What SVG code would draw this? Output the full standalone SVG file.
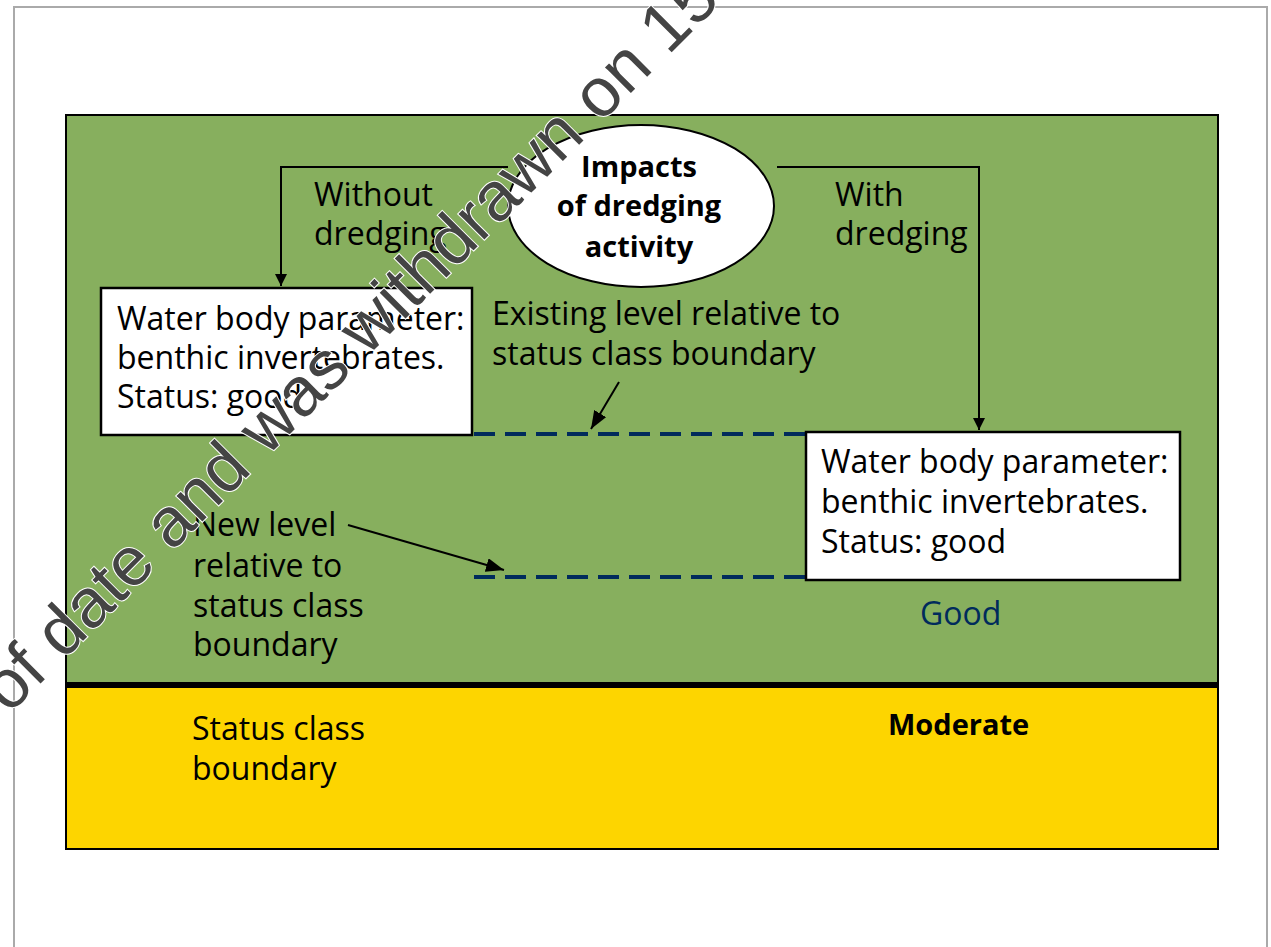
<svg xmlns="http://www.w3.org/2000/svg" width="1271" height="947" viewBox="0 0 1271 947">
<defs>
<marker id="ah" markerWidth="12" markerHeight="12" viewBox="0 0 12 12" refX="12" refY="6" orient="auto" markerUnits="userSpaceOnUse">
<path d="M0,0 L12,6 L0,12 z" fill="#000"/>
</marker>
<marker id="ah2" markerWidth="18" markerHeight="14" viewBox="0 0 18 14" refX="18" refY="7" orient="auto" markerUnits="userSpaceOnUse">
<path d="M0,0 L18,7 L0,14 z" fill="#000"/>
</marker>
</defs>
<style>
.t{font-family:"Open Sans","Noto Sans","Liberation Sans",sans-serif;font-size:32px;fill:#000}
.b{font-weight:bold;font-size:29px}
.box{fill:#fff;stroke:#000;stroke-width:2.5}
.con{fill:none;stroke:#000;stroke-width:2}
.dash{fill:none;stroke:#002B5C;stroke-width:4;stroke-dasharray:21 10}
.wm{font-family:"Liberation Sans",Arial,sans-serif;font-size:69px;fill:#444;stroke:#fff;stroke-width:2;paint-order:stroke}
</style>
<rect x="14" y="7" width="1253" height="960" fill="#fff" stroke="#aaa" stroke-width="2"/>
<g id="good-zone">
<rect x="66" y="115" width="1152" height="570" fill="#87AF5E" stroke="#000" stroke-width="2"/>
<text class="t" x="920" y="625" style="fill:#002B5C">Good</text>
</g>
<g id="moderate-zone">
<rect x="66" y="685" width="1152" height="164" fill="#FDD500" stroke="#000" stroke-width="2"/>
<text class="t b" x="888" y="735">Moderate</text>
</g>
<g id="boundary">
<line x1="66" y1="685" x2="1218" y2="685" stroke="#000" stroke-width="6"/>
<text class="t" x="192" y="740">Status class</text>
<text class="t" x="192" y="780">boundary</text>
</g>
<g id="connectors">
<polyline class="con" points="508,167 281,167 281,286" marker-end="url(#ah)"/>
<polyline class="con" points="777,167 979,167 979,430" marker-end="url(#ah)"/>
<line class="dash" x1="474" y1="434" x2="806" y2="434"/>
<line class="dash" x1="474" y1="577" x2="806" y2="577"/>
<line class="con" x1="619" y1="382" x2="591" y2="429" marker-end="url(#ah2)"/>
<line class="con" x1="348" y1="525" x2="504" y2="570" marker-end="url(#ah2)"/>
</g>
<g id="impacts">
<ellipse cx="641" cy="206" rx="133" ry="81" fill="#fff" stroke="#000" stroke-width="2"/>
<text class="t b" x="639" y="177" text-anchor="middle">Impacts</text>
<text class="t b" x="639" y="216" text-anchor="middle">of dredging</text>
<text class="t b" x="639" y="257" text-anchor="middle">activity</text>
</g>
<g id="label-without">
<text class="t" x="314" y="206">Without</text>
<text class="t" x="314" y="245">dredging</text>
</g>
<g id="label-with">
<text class="t" x="835" y="206">With</text>
<text class="t" x="835" y="245">dredging</text>
</g>
<g id="existing-level">
<text class="t" x="492" y="325">Existing level relative to</text>
<text class="t" x="492" y="365">status class boundary</text>
</g>
<g id="new-level">
<text class="t" x="193" y="536">New level</text>
<text class="t" x="193" y="577">relative to</text>
<text class="t" x="193" y="617">status class</text>
<text class="t" x="193" y="656">boundary</text>
</g>
<g id="box-without">
<rect class="box" x="101" y="288" width="371" height="147"/>
<text class="t" x="117" y="330">Water body parameter:</text>
<text class="t" x="117" y="369">benthic invertebrates.</text>
<text class="t" x="117" y="408">Status: good</text>
</g>
<g id="box-with">
<rect class="box" x="806" y="432" width="374" height="148"/>
<text class="t" x="821" y="473">Water body parameter:</text>
<text class="t" x="821" y="513">benthic invertebrates.</text>
<text class="t" x="821" y="553">Status: good</text>
</g>
<text class="wm" x="9" y="715" transform="rotate(-45 9 715)">of date and was withdrawn on 15</text>
</svg>
